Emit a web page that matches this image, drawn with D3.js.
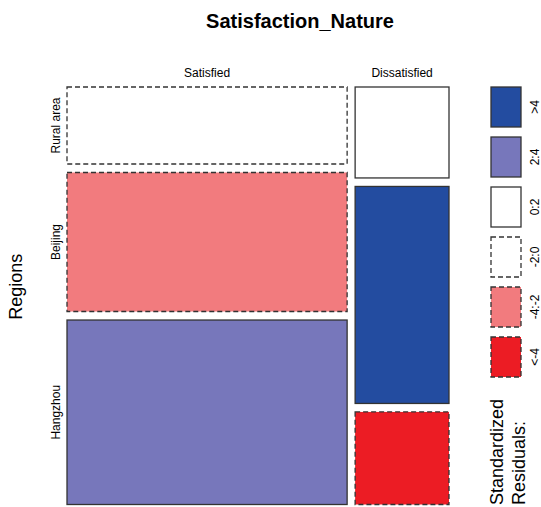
<!DOCTYPE html>
<html>
<head>
<meta charset="utf-8">
<script src="https://cdn.jsdelivr.net/npm/d3@7"></script>
<style>
  body { margin: 0; background: #fff; }
  text { font-family: 'Liberation Sans', Arial, sans-serif; fill: #000; }
</style>
</head>
<body>
<div id="mosaic"></div>
<script>
const regions = ['Rural area', 'Beijing', 'Hangzhou'];
const satisfaction = ['Satisfied', 'Dissatisfied'];
const satisfiedCounts = [288, 520, 690];
const dissatisfiedCounts = [114, 272, 116];
const legendLabels = ['>4', '2:4', '0:2', '-2:0', '-4:-2', '<-4'];
const legendColors = ['#234ca0', '#7777bb', '#ffffff', '#ffffff', '#f27b7e', '#ec1c24'];

const counts = [satisfiedCounts, dissatisfiedCounts];

function shadeIndex(r) {
  if (r > 4) return 0;
  if (r > 2) return 1;
  if (r > 0) return 2;
  if (r > -2) return 3;
  if (r > -4) return 4;
  return 5;
}

function init() {
  let width = 541, height = 507;
  let plot = { left: 67, top: 87, right: 449, bottom: 504.5 };
  let gapX = 8, gapY = 8.5;

  let svg = d3.select('#mosaic')
              .append('svg')
              .attr('width', width)
              .attr('height', height);

  let colTotals = counts.map(c => d3.sum(c));
  let rowTotals = regions.map((r, i) => d3.sum(counts, c => c[i]));
  let total = d3.sum(colTotals);

  let x = d3.scaleLinear()
            .domain([0, total])
            .range([0, plot.right - plot.left - gapX * (satisfaction.length - 1)]);

  // Build tiles: columns by satisfaction, rows by region.
  let tiles = [];
  let columns = [];
  let xCum = 0;
  satisfaction.forEach((s, j) => {
    let x0 = plot.left + x(xCum) + j * gapX;
    let w = x(colTotals[j]);
    columns.push({ name: s, x0: x0, w: w });

    let y = d3.scaleLinear()
              .domain([0, colTotals[j]])
              .range([0, plot.bottom - plot.top - gapY * (regions.length - 1)]);

    let yCum = 0;
    regions.forEach((r, i) => {
      let observed = counts[j][i];
      let expected = rowTotals[i] * colTotals[j] / total;
      let residual = (observed - expected) / Math.sqrt(expected);
      tiles.push({
        region: r,
        col: j,
        row: i,
        x: x0,
        w: w,
        y: plot.top + y(yCum) + i * gapY,
        h: y(observed),
        residual: residual
      });
      yCum += observed;
    });
    xCum += colTotals[j];
  });

  svg.append('g')
     .selectAll('rect')
     .data(tiles)
     .enter()
     .append('rect')
     .attr('x', d => d.x)
     .attr('y', d => d.y)
     .attr('width', d => d.w)
     .attr('height', d => d.h)
     .attr('fill', d => legendColors[shadeIndex(d.residual)])
     .attr('stroke', '#333')
     .attr('stroke-width', 1.3)
     .attr('stroke-dasharray', d => d.residual < 0 ? '5,3' : null);

  // Title
  svg.append('text')
     .attr('x', 300)
     .attr('y', 28)
     .attr('text-anchor', 'middle')
     .style('font-size', '20px')
     .style('font-weight', 'bold')
     .text('Satisfaction_Nature');

  // Column labels
  svg.append('g')
     .selectAll('text')
     .data(columns)
     .enter()
     .append('text')
     .attr('x', d => d.x0 + d.w / 2)
     .attr('y', 77)
     .attr('text-anchor', 'middle')
     .style('font-size', '12px')
     .text(d => d.name);

  // Row labels, centred on the first column
  svg.append('g')
     .selectAll('text')
     .data(tiles.filter(d => d.col === 0))
     .enter()
     .append('text')
     .attr('transform', d => `translate(60, ${d.y + d.h / 2}) rotate(-90)`)
     .attr('text-anchor', 'middle')
     .style('font-size', '12px')
     .text(d => d.region);

  svg.append('text')
     .attr('transform', `translate(22, ${(plot.top + plot.bottom) / 2 - 9}) rotate(-90)`)
     .attr('text-anchor', 'middle')
     .style('font-size', '18px')
     .text('Regions');

  // Legend
  let legend = d3.scaleBand()
                 .domain(legendLabels)
                 .range([87, 377])
                 .paddingInner(0.2)
                 .paddingOuter(0);

  svg.append('g')
     .selectAll('rect')
     .data(legendLabels)
     .enter()
     .append('rect')
     .attr('x', 491)
     .attr('y', d => legend(d))
     .attr('width', 30)
     .attr('height', legend.bandwidth())
     .attr('fill', (d, i) => legendColors[i])
     .attr('stroke', '#333')
     .attr('stroke-width', 1.3)
     .attr('stroke-dasharray', (d, i) => i >= 3 ? '5,3' : null);

  svg.append('g')
     .selectAll('text')
     .data(legendLabels)
     .enter()
     .append('text')
     .attr('transform', d => `translate(539, ${legend(d) + legend.bandwidth() / 2}) rotate(-90)`)
     .attr('text-anchor', 'middle')
     .style('font-size', '12px')
     .text(d => d);

  svg.append('text')
     .attr('transform', 'translate(503, 505) rotate(-90)')
     .style('font-size', '18px')
     .text('Standardized');

  svg.append('text')
     .attr('transform', 'translate(525, 505) rotate(-90)')
     .style('font-size', '18px')
     .text('Residuals:');
}

init();
</script>
</body>
</html>
